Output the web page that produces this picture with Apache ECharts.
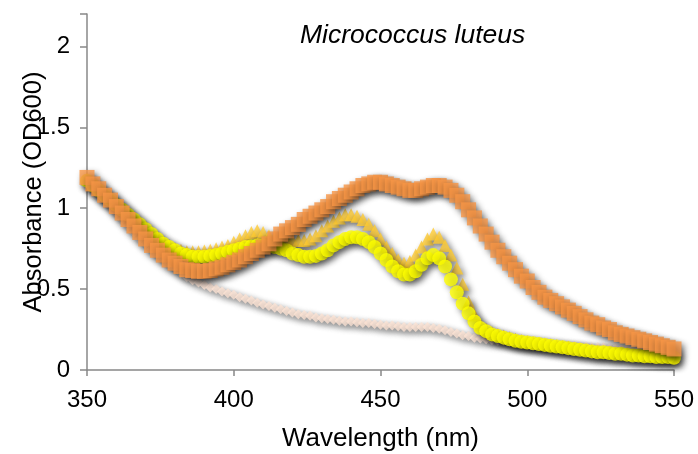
<!DOCTYPE html>
<html>
<head>
<meta charset="utf-8">
<script src="https://cdn.jsdelivr.net/npm/echarts@6/dist/echarts.min.js"></script>
<style>
  html, body { margin: 0; padding: 0; background: #ffffff; }
  #chart { width: 698px; height: 454px; }
</style>
</head>
<body>
<div id="chart"></div>
<script>
// Wavelength grid: 350–550 nm sampled every 2 nm
const wavelengths = [];
for (let w = 350; w <= 550; w += 2) wavelengths.push(w);

const xTicks = [350, 400, 450, 500, 550];
const yTicks = [0, 0.5, 1, 1.5, 2];

// Absorbance spectra (OD600), one value per wavelength
const peachSpectrum = [
  1.16, 1.12, 1.08, 1.05, 1.01, 0.97, 0.93, 0.89, 0.85, 0.81,
  0.78, 0.75, 0.72, 0.69, 0.66, 0.63, 0.60, 0.575, 0.555, 0.54,
  0.525, 0.51, 0.50, 0.485, 0.475, 0.465, 0.45, 0.44, 0.43, 0.415,
  0.405, 0.395, 0.385, 0.375, 0.365, 0.355, 0.345, 0.34, 0.335, 0.325,
  0.32, 0.315, 0.31, 0.305, 0.30, 0.30, 0.295, 0.29, 0.29, 0.285,
  0.28, 0.275, 0.275, 0.27, 0.265, 0.265, 0.265, 0.265, 0.265, 0.26,
  0.255, 0.245, 0.235, 0.225, 0.215, 0.21, 0.20, 0.195, 0.19, 0.185,
  0.18, 0.18, 0.175, 0.17, 0.17, 0.165, 0.165, 0.16, 0.16, 0.155,
  0.155, 0.15, 0.15, 0.15, 0.145, 0.145, 0.14, 0.14, 0.14, 0.135,
  0.135, 0.13, 0.13, 0.13, 0.125, 0.125, 0.12, 0.12, 0.12, 0.115,
  0.115
];

const goldSpectrum = [
  1.18, 1.15, 1.12, 1.09, 1.06, 1.03, 1.00, 0.97, 0.94, 0.91,
  0.88, 0.85, 0.82, 0.79, 0.77, 0.75, 0.74, 0.73, 0.73, 0.73,
  0.735, 0.74, 0.75, 0.76, 0.77, 0.79, 0.81, 0.83, 0.85, 0.86,
  0.85, 0.83, 0.82, 0.81, 0.81, 0.80, 0.80, 0.80, 0.81, 0.83,
  0.86, 0.89, 0.92, 0.94, 0.96, 0.96, 0.95, 0.93, 0.90, 0.86,
  0.81, 0.76, 0.72, 0.68, 0.66, 0.67, 0.71, 0.76, 0.81, 0.84,
  0.82, 0.77, 0.71, 0.63, 0.53, 0.42, 0.34, 0.28, 0.25, 0.23,
  0.22, 0.21, 0.20, 0.19, 0.18, 0.175, 0.17, 0.165, 0.16, 0.155,
  0.15, 0.145, 0.14, 0.135, 0.13, 0.125, 0.12, 0.115, 0.115, 0.11,
  0.105, 0.105, 0.10, 0.095, 0.095, 0.09, 0.09, 0.085, 0.085, 0.085,
  0.08
];

const yellowSpectrum = [
  1.17, 1.14, 1.11, 1.08, 1.05, 1.02, 0.99, 0.96, 0.93, 0.90,
  0.87, 0.84, 0.81, 0.78, 0.76, 0.74, 0.72, 0.71, 0.70, 0.70,
  0.70, 0.705, 0.71, 0.72, 0.73, 0.74, 0.75, 0.76, 0.765, 0.77,
  0.77, 0.765, 0.76, 0.75, 0.74, 0.72, 0.71, 0.70, 0.70, 0.705,
  0.72, 0.74, 0.77, 0.79, 0.81, 0.82, 0.82, 0.81, 0.79, 0.76,
  0.72, 0.68, 0.64, 0.61, 0.59, 0.59, 0.61, 0.65, 0.69, 0.71,
  0.69, 0.64, 0.56, 0.48, 0.41, 0.35, 0.30, 0.26, 0.24, 0.22,
  0.21, 0.20, 0.19, 0.18, 0.175, 0.17, 0.165, 0.16, 0.155, 0.15,
  0.145, 0.14, 0.135, 0.13, 0.125, 0.12, 0.115, 0.11, 0.11, 0.105,
  0.10, 0.10, 0.095, 0.09, 0.09, 0.085, 0.085, 0.08, 0.08, 0.08,
  0.075
];

const orangeSpectrum = [
  1.19, 1.15, 1.12, 1.08, 1.05, 1.01, 0.97, 0.93, 0.89, 0.85,
  0.81, 0.77, 0.74, 0.71, 0.68, 0.66, 0.64, 0.62, 0.615, 0.61,
  0.61, 0.615, 0.625, 0.635, 0.65, 0.665, 0.68, 0.70, 0.72, 0.74,
  0.76, 0.78, 0.81, 0.84, 0.86, 0.88, 0.90, 0.93, 0.95, 0.97,
  0.99, 1.01, 1.04, 1.06, 1.08, 1.10, 1.12, 1.14, 1.15, 1.16,
  1.16, 1.15, 1.14, 1.13, 1.12, 1.11, 1.11, 1.12, 1.13, 1.14,
  1.14, 1.13, 1.11, 1.08, 1.04, 0.99, 0.94, 0.89, 0.84, 0.79,
  0.74, 0.70, 0.66, 0.62, 0.58, 0.55, 0.51, 0.48, 0.45, 0.43,
  0.41, 0.39, 0.37, 0.35, 0.33, 0.31, 0.29, 0.28, 0.26, 0.25,
  0.23, 0.22, 0.21, 0.20, 0.19, 0.18, 0.17, 0.16, 0.15, 0.14,
  0.13
];

const FONT = '"Liberation Sans", Arial, sans-serif';
const AXIS_GREY = '#888888';

function pairs(values) {
  return wavelengths.map((w, i) => [w, values[i]]);
}

function spectrumSeries(name, values, symbol, size, color) {
  return {
    name: name,
    type: 'scatter',
    data: pairs(values),
    symbol: symbol,
    symbolSize: size,
    itemStyle: {
      color: color,
      shadowBlur: 6,
      shadowColor: 'rgba(0,0,0,0.6)',
      shadowOffsetX: 3,
      shadowOffsetY: 3
    },
    emphasis: { disabled: true },
    silent: true
  };
}

const chart = echarts.init(document.getElementById('chart'), null, { renderer: 'canvas' });

chart.setOption({
  animation: false,
  backgroundColor: '#ffffff',
  grid: {
    left: 87, right: 24, top: 14, bottom: 84,
    containLabel: false,
    outerBoundsMode: 'none'
  },
  xAxis: {
    type: 'value',
    min: xTicks[0],
    max: xTicks[xTicks.length - 1],
    interval: xTicks[1] - xTicks[0],
    name: 'Wavelength (nm)',
    nameLocation: 'middle',
    nameGap: 56,
    nameMoveOverlap: false,
    nameTextStyle: { fontFamily: FONT, fontSize: 26, color: '#000' },
    axisLine: { show: true, onZero: false, lineStyle: { color: AXIS_GREY, width: 1.5 } },
    axisTick: { show: true, length: 6, lineStyle: { color: AXIS_GREY, width: 1.5 } },
    axisLabel: { fontFamily: FONT, fontSize: 24, color: '#000', margin: 18 },
    splitLine: { show: false }
  },
  yAxis: {
    type: 'value',
    min: 0,
    max: 2.2,
    interval: yTicks[1] - yTicks[0],
    name: 'Absorbance (OD600)',
    nameLocation: 'middle',
    nameGap: 40,
    nameMoveOverlap: false,
    nameRotate: 90,
    nameTextStyle: { fontFamily: FONT, fontSize: 25.5, color: '#000' },
    axisLine: { show: true, lineStyle: { color: AXIS_GREY, width: 1.5 } },
    axisTick: { show: true, length: 7, lineStyle: { color: AXIS_GREY, width: 1.5 } },
    axisLabel: {
      fontFamily: FONT, fontSize: 24, color: '#000', margin: 17,
      formatter: v => (yTicks.indexOf(v) >= 0 ? String(v) : '')
    },
    splitLine: { show: false }
  },
  graphic: [{
    type: 'text',
    left: 300,
    top: 22,
    style: {
      text: 'Micrococcus luteus',
      font: 'italic 26.5px ' + FONT,
      fill: '#000'
    }
  }],
  series: [
    spectrumSeries('peach', peachSpectrum, 'diamond', 10, '#FCE4D4'),
    spectrumSeries('gold', goldSpectrum, 'triangle', 13, '#FFCC33'),
    spectrumSeries('yellow', yellowSpectrum, 'circle', 14, '#FFFF00'),
    spectrumSeries('orange', orangeSpectrum, 'rect', 15, '#F79646')
  ]
});
</script>
</body>
</html>
